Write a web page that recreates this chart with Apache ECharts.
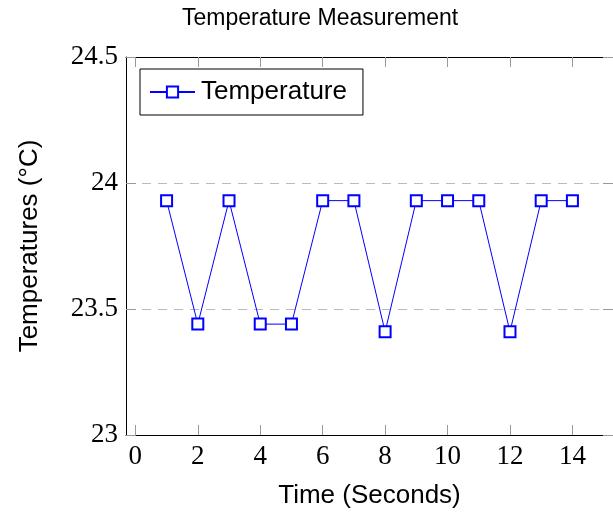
<!DOCTYPE html>
<html>
<head>
<meta charset="utf-8">
<script src="https://cdn.jsdelivr.net/npm/echarts@6/dist/echarts.min.js"></script>
<style>
  html, body { margin: 0; padding: 0; background: #fff; }
  #chart { width: 613px; height: 514px; }
</style>
</head>
<body>
<div id="chart"></div>
<script>
// 数据
var seconds = [1, 2, 3, 4, 5, 6, 7, 8, 9, 10, 11, 12, 13, 14];
var temps = [23.93, 23.44, 23.93, 23.44, 23.44, 23.93, 23.93, 23.41, 23.93, 23.93, 23.93, 23.41, 23.93, 23.93];
var xTicks = [0, 2, 4, 6, 8, 10, 12, 14];

var sans = '"Liberation Sans", Arial, sans-serif';
var serif = '"Liberation Serif", "DejaVu Serif", serif';

var points = [];
for (var i = 0; i < seconds.length; i++) {
    points.push([seconds[i], temps[i]]);
}

var tickStyle = { show: true, inside: true, length: 10, customValues: xTicks, lineStyle: { color: '#999', width: 1 } };

var myChart = echarts.init(document.getElementById('chart'));
var option = {
    animation: false,
    backgroundColor: '#fff',
    title: {
        text: 'Temperature Measurement',
        left: 177,
        top: 2,
        textStyle: { fontFamily: sans, fontSize: 23, fontWeight: 'normal', color: '#000' }
    },
    legend: {
        left: 140,
        top: 69,
        orient: 'vertical',
        padding: [10, 16, 10, 9],
        borderColor: '#000',
        borderWidth: 1,
        backgroundColor: '#fff',
        itemWidth: 45,
        itemHeight: 14,
        textStyle: { fontFamily: sans, fontSize: 26, color: '#000', padding: [0, 0, 0, 1] },
        data: ['Temperature']
    },
    grid: { left: 126, top: 57, right: -1, bottom: 79 },
    xAxis: [{
        type: 'value',
        position: 'bottom',
        min: -0.3,
        max: 15.3,
        name: 'Time (Seconds)',
        nameLocation: 'middle',
        nameGap: 48,
        nameTextStyle: { fontFamily: sans, fontSize: 26, color: '#000' },
        axisLine: { show: true, onZero: false, lineStyle: { color: '#000', width: 1 } },
        axisTick: tickStyle,
        axisLabel: { customValues: xTicks, fontFamily: serif, fontSize: 27, color: '#000', margin: 8 },
        splitLine: { show: false }
    }, {
        type: 'value',
        position: 'top',
        min: -0.3,
        max: 15.3,
        axisLine: { show: true, onZero: false, lineStyle: { color: '#000', width: 1 } },
        axisTick: tickStyle,
        axisLabel: { show: false },
        splitLine: { show: false }
    }],
    yAxis: [{
        type: 'value',
        position: 'left',
        min: 23,
        max: 24.5,
        interval: 0.5,
        name: 'Temperatures (°C)',
        nameLocation: 'middle',
        nameGap: 83,
        nameTextStyle: { fontFamily: sans, fontSize: 26, color: '#000' },
        axisLine: { show: true, onZero: false, lineStyle: { color: '#000', width: 1 } },
        axisTick: { show: true, inside: true, length: 10, lineStyle: { color: '#999', width: 1 } },
        axisLabel: { fontFamily: serif, fontSize: 27, color: '#000', margin: 8 },
        splitLine: { show: true, lineStyle: { color: '#bbb', width: 1, type: [9, 7] } }
    }, {
        type: 'value',
        position: 'right',
        min: 23,
        max: 24.5,
        interval: 0.5,
        axisLine: { show: true, onZero: false, lineStyle: { color: '#000', width: 1 } },
        axisTick: { show: true, inside: true, length: 10, lineStyle: { color: '#999', width: 1 } },
        axisLabel: { show: false },
        splitLine: { show: false }
    }],
    series: [{
        name: 'Temperature',
        type: 'line',
        data: points,
        symbol: 'emptyRect',
        symbolSize: 11,
        color: '#0000ff',
        lineStyle: { color: '#0000ff', width: 1 },
        itemStyle: { color: '#0000ff', borderColor: '#0000ff', borderWidth: 1 }
    }]
};
myChart.setOption(option);
</script>
</body>
</html>
